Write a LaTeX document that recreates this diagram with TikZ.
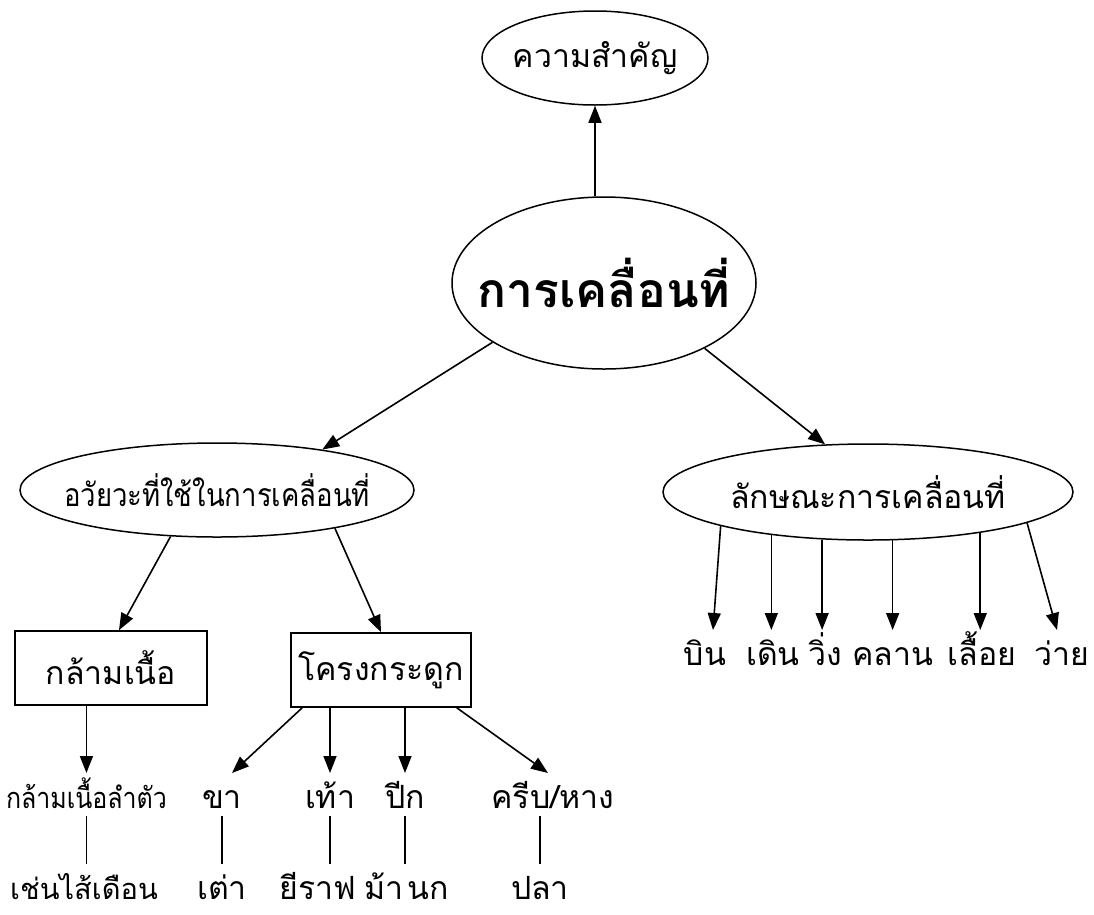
\documentclass[tikz,border=0pt]{standalone}
\usepackage{fontspec}
\newfontfamily\thai[Script=Thai]{Loma}
\newfontfamily\thainarrow[Script=Thai,FakeStretch=0.86]{Loma}
\usetikzlibrary{shapes.geometric,arrows.meta,calc}
\begin{document}
\begin{tikzpicture}[x=1pt,y=-1pt,
  every node/.style={font=\thai\fontsize{32}{36}\selectfont},
  every label/.style={inner sep=0pt},
  oval/.style={draw,ellipse,line width=1.5pt,inner sep=0pt},
  boxnode/.style={draw,rectangle,line width=1.6pt,inner sep=0pt},
  lbl/.style={inner sep=0pt,outer sep=5pt,text height=30pt,text depth=3pt,anchor=base},
  arr/.style={line width=1.6pt,-{Triangle[length=17pt,width=13pt]}},
  tie/.style={line width=1.6pt}]
\useasboundingbox (0,0) rectangle (1094,914);

% central topic and its purpose
\node[oval,minimum width=226pt,minimum height=94pt,
      label={center:ความสำคัญ}] (imp) at (595,58) {};
\node[oval,minimum width=304pt,minimum height=172pt,
      label={[font=\thai\bfseries\fontsize{48}{54}\selectfont]center:การเคลื่อนที่}] (mov) at (604,283) {};
\draw[arr] (mov.north -| imp.south) -- (imp.south);

% two branches
\node[oval,minimum width=394pt,minimum height=94pt,
      label={[font=\thainarrow\fontsize{32}{36}\selectfont]center:อวัยวะที่ใช้ในการเคลื่อนที่}] (org) at (217,490) {};
\node[oval,minimum width=410pt,minimum height=96pt,
      label={center:ลักษณะการเคลื่อนที่}] (kind) at (868,492) {};
\draw[arr] (mov.208) -- (org.21.8);
\draw[arr] (mov.327) -- (kind.132.5);

% kinds of movement
\node[lbl] (fly)   at (705,665) {บิน};
\node[lbl] (walk)  at (773,665) {เดิน};
\node[lbl] (run)   at (825,665) {วิ่ง};
\node[lbl] (crawl) at (893,665) {คลาน};
\node[lbl] (slide) at (982,665) {เลื้อย};
\node[lbl] (swim)  at (1062,665) {ว่าย};
\draw[arr] (kind.193.2) -- ([xshift=8pt]fly.north);
\draw[arr] (kind.204.1) -- (kind.204.1 |- walk.north);
\draw[arr] (kind.226.1) -- (kind.226.1 |- run.north);
\draw[arr] (kind.297.7) -- (kind.297.7 |- crawl.north);
\draw[arr] (kind.340.7) -- (kind.340.7 |- slide.north);
\draw[arr] (kind.349.2) -- ([xshift=-5pt]swim.north);

% organs
\node[boxnode,minimum width=192pt,minimum height=74pt] (mus) at (111,668) {กล้ามเนื้อ};
\node[boxnode,minimum width=180pt,minimum height=74pt] (skel) at (381,670) {โครงกระดูก};
\draw[arr] (org.225.4) -- ([xshift=8pt]mus.north);
\draw[arr] (org.342.3) -- (skel.north);

% examples
\node[lbl,anchor=base west,font=\thainarrow\fontsize{29}{33}\selectfont] (trunk) at (1,808) {กล้ามเนื้อลำตัว};
\node[lbl] (leg)   at (222,808) {ขา};
\node[lbl] (foot)  at (330,808) {เท้า};
\node[lbl] (wing)  at (405,808) {ปีก};
\node[lbl] (fin)   at (553,808) {ครีบ/หาง};
\draw[arr] (trunk.north |- mus.south) -- (trunk.north);
\draw[arr] ([xshift=12pt]skel.south west) -- ([xshift=10pt]leg.north);
\draw[arr] (foot.north |- skel.south) -- (foot.north);
\draw[arr] (wing.north |- skel.south) -- (wing.north);
\draw[arr] ([xshift=-15pt]skel.south east) -- ([xshift=-5pt]fin.north);

\node[lbl,font=\thai\fontsize{29}{33}\selectfont] (worm) at (84,899) {เช่นไส้เดือน};
\node[lbl] (turtle)  at (222,899) {เต่า};
\node[lbl] (giraffe) at (318,899) {ยีราฟ};
\node[lbl] (horse)   at (384,899) {ม้า};
\node[lbl] (bird)    at (428,899) {นก};
\node[lbl] (fish)    at (540,899) {ปลา};
\draw[tie] (trunk.south) -- (trunk.south |- worm.north);
\draw[tie] (leg.south) -- (leg.south |- turtle.north);
\draw[tie] (foot.south) -- (foot.south |- giraffe.north);
\draw[tie] (wing.south) -- (wing.south |- bird.north);
\draw[tie] ([xshift=-13pt]fin.south) -- ([xshift=-13pt]fin.south |- fish.north);
\end{tikzpicture}
\end{document}
